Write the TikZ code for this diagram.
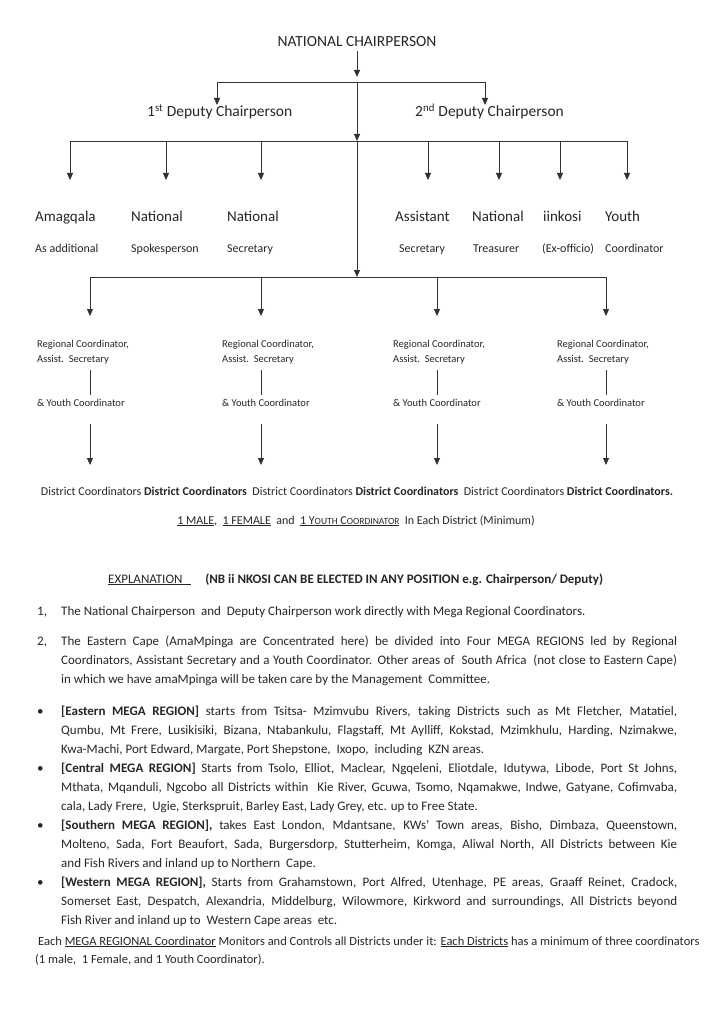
\documentclass[tikz,border=0pt]{standalone}
\usepackage{fontspec}
\setmainfont{Carlito}
\usepackage{tikz}
\usetikzlibrary{arrows.meta,positioning,calc}

\newcommand{\fsz}[2]{\fontsize{#1}{#2}\selectfont}
\newcommand{\fakesc}[2]{#1{\fsz{9.5}{12}#2}}

\tikzset{
    lbl/.style={inner sep=0pt, text=black!85},
    conn/.style={draw=black!80, line width=0.8pt},
    arr/.style={conn, -{Triangle[width=6pt,length=7pt]}},
    para/.style={lbl, anchor=base west, text width=616pt, align=justify, font=\fsz{13}{19}}
}

\begin{document}
\begin{tikzpicture}[x=1pt, y=-1pt]
    \useasboundingbox (0,0) rectangle (709,1024);

    % chairperson and deputies
    \node[lbl, font=\fsz{15.5}{18}, anchor=base] (chair) at (357,47) {NATIONAL CHAIRPERSON};
    \coordinate (j1) at (357,82);
    \coordinate (d1) at (217,82);
    \coordinate (d2) at (485,82);
    \coordinate (dt1) at (217,105);
    \coordinate (dt2) at (485,105);
    \draw[arr, shorten <=4pt, shorten >=5pt] (chair) -- (j1);
    \draw[conn] (d1) -- (d2);
    \draw[arr] (d1) -- (dt1);
    \draw[arr] (d2) -- (dt2);
    \node[lbl, font=\fsz{15.5}{18}, anchor=base west] (dep1) at (147,117) {1\textsuperscript{st} Deputy Chairperson};
    \node[lbl, font=\fsz{15.5}{18}, anchor=base west] (dep2) at (415,117) {2\textsuperscript{nd} Deputy Chairperson};

    % spine down the middle
    \coordinate (j2) at (357,141);
    \coordinate (j3) at (357,277);
    \draw[arr] (j1) -- (j2);
    \draw[arr] (j2) -- (j3);

    % national officers
    \coordinate (b2l) at (70,141);
    \coordinate (b2r) at (627,141);
    \draw[conn] (b2l) -- (b2r);
    \foreach \i/\x/\t/\u/\a/\b in {1/70/35/35/Amagqala/As additional,
        2/166/131/131/National/Spokesperson, 3/261/227/227/National/Secretary,
        4/428/395/399/Assistant/Secretary, 5/499/472/473/National/Treasurer,
        6/560/543/542/iinkosi/(Ex-officio), 7/627/605/605/Youth/Coordinator} {
        \coordinate (o\i) at (\x,141);
        \coordinate (ot\i) at (\x,180);
        \draw[arr] (o\i) -- (ot\i);
        \node[lbl, font=\fsz{15}{18}, anchor=base west] (off\i) at (\t,222) {\a};
        \node[lbl, font=\fsz{12}{14}, anchor=base west] (offb\i) at (\u,252) {\b};
    }

    % mega regions
    \coordinate (b3l) at (90,277);
    \coordinate (b3r) at (606,277);
    \draw[conn] (b3l) -- (b3r);
    \foreach \i/\x/\t in {1/90/37, 2/261/222, 3/437/393, 4/606/557} {
        \coordinate (r\i) at (\x,277);
        \coordinate (rt\i) at (\x,316);
        \coordinate (s\i) at (\x,370);
        \coordinate (st\i) at (\x,395);
        \coordinate (u\i) at (\x,424);
        \coordinate (ut\i) at (\x,465);
        \draw[arr] (r\i) -- (rt\i);
        \node[lbl, font=\fsz{10.5}{13}, anchor=base west] (reg\i) at (\t,347) {Regional Coordinator,};
        \node[lbl, font=\fsz{10.5}{13}, anchor=base west] (asst\i) at (\t,362) {Assist.\ \ Secretary};
        \draw[conn] (s\i) -- (st\i);
        \node[lbl, font=\fsz{10.5}{12}, anchor=base west] (yc\i) at (\t,406) {\& Youth Coordinator};
        \draw[arr] (u\i) -- (ut\i);
    }

    % districts
    \node[lbl, font=\fsz{12}{14}, anchor=base] (dist) at (357,495) {District Coordinators \textbf{District Coordinators}\ \ District Coordinators \textbf{District Coordinators}\ \ District Coordinators \textbf{District Coordinators.}};
    \node[lbl, font=\fsz{12}{14}, anchor=base] (mini) at (356,524) {\underline{1 MALE},\ \ \underline{1 FEMALE}\ \ and\ \ \underline{1 \fakesc{Y}{OUTH} \fakesc{C}{OORDINATOR}}\ \ In Each District (Minimum)};

    % explanation
    \node[lbl, font=\fsz{13}{19}, anchor=base west] (expl) at (108,583) {\underline{EXPLANATION\ \ \ }\hspace{14pt}\textbf{(NB ii NKOSI CAN BE ELECTED IN ANY POSITION e.g. Chairperson/ Deputy)}};
    \node[lbl, font=\fsz{13}{19}, anchor=base west] (n1) at (37,615) {1,};
    \node[para] (p1) at (61,615) {The National Chairperson\ \ and\ \ Deputy Chairperson work directly with Mega Regional Coordinators.};
    \node[lbl, font=\fsz{13}{19}, anchor=base west] (n2) at (37,645) {2,};
    \node[para] (p2) at (61,645) {The Eastern Cape (AmaMpinga are Concentrated here) be divided into Four MEGA REGIONS led by Regional\linebreak
        Coordinators, Assistant Secretary and a Youth Coordinator. Other areas of\ \ South Africa\ \ (not close to Eastern Cape)\linebreak
        in which we have amaMpinga will be taken care by the Management\ \ Committee.};

    % the four mega regions
    \foreach \i/\y in {1/715, 2/772, 3/829, 4/886} {
        \node[lbl, font=\fsz{13}{19}, anchor=base west] (bul\i) at (37,\y) {\textbullet};
    }
    \node[para] (east) at (61,715) {\textbf{[Eastern MEGA REGION]} starts from Tsitsa- Mzimvubu Rivers, taking Districts such as Mt Fletcher, Matatiel,\linebreak
        Qumbu, Mt Frere, Lusikisiki, Bizana, Ntabankulu, Flagstaff, Mt Aylliff, Kokstad, Mzimkhulu, Harding, Nzimakwe,\linebreak
        Kwa-Machi, Port Edward, Margate, Port Shepstone,\ \ Ixopo,\ \ including\ \ KZN areas.};
    \node[para] (cent) at (61,772) {\textbf{[Central MEGA REGION]} Starts from Tsolo, Elliot, Maclear, Ngqeleni, Eliotdale, Idutywa, Libode, Port St Johns,\linebreak
        Mthata, Mqanduli, Ngcobo all Districts within\ \ Kie River, Gcuwa, Tsomo, Nqamakwe, Indwe, Gatyane, Cofimvaba,\linebreak
        cala, Lady Frere,\ \ Ugie, Sterkspruit, Barley East, Lady Grey, etc. up to Free State.};
    \node[para] (south) at (61,829) {\textbf{[Southern MEGA REGION],} takes East London, Mdantsane, KWs’ Town areas, Bisho, Dimbaza, Queenstown,\linebreak
        Molteno, Sada, Fort Beaufort, Sada, Burgersdorp, Stutterheim, Komga, Aliwal North, All Districts between Kie\linebreak
        and Fish Rivers and inland up to Northern\ \ Cape.};
    \node[para] (west) at (61,886) {\textbf{[Western MEGA REGION],} Starts from Grahamstown, Port Alfred, Utenhage, PE areas, Graaff Reinet, Cradock,\linebreak
        Somerset East, Despatch, Alexandria, Middelburg, Wilowmore, Kirkword and surroundings, All Districts beyond\linebreak
        Fish River and inland up to\ \ Western Cape areas\ \ etc.};

    % closing note
    \node[lbl, font=\fsz{12.5}{18}, anchor=base west] (note1) at (38,945) {Each \underline{MEGA REGIONAL Coordinator} Monitors and Controls all Districts under it: \underline{Each Districts} has a minimum of three coordinators};
    \node[lbl, font=\fsz{12.5}{18}, anchor=base west] (note2) at (35,963) {(1 male,\ \ 1 Female, and 1 Youth Coordinator).};
\end{tikzpicture}
\end{document}
